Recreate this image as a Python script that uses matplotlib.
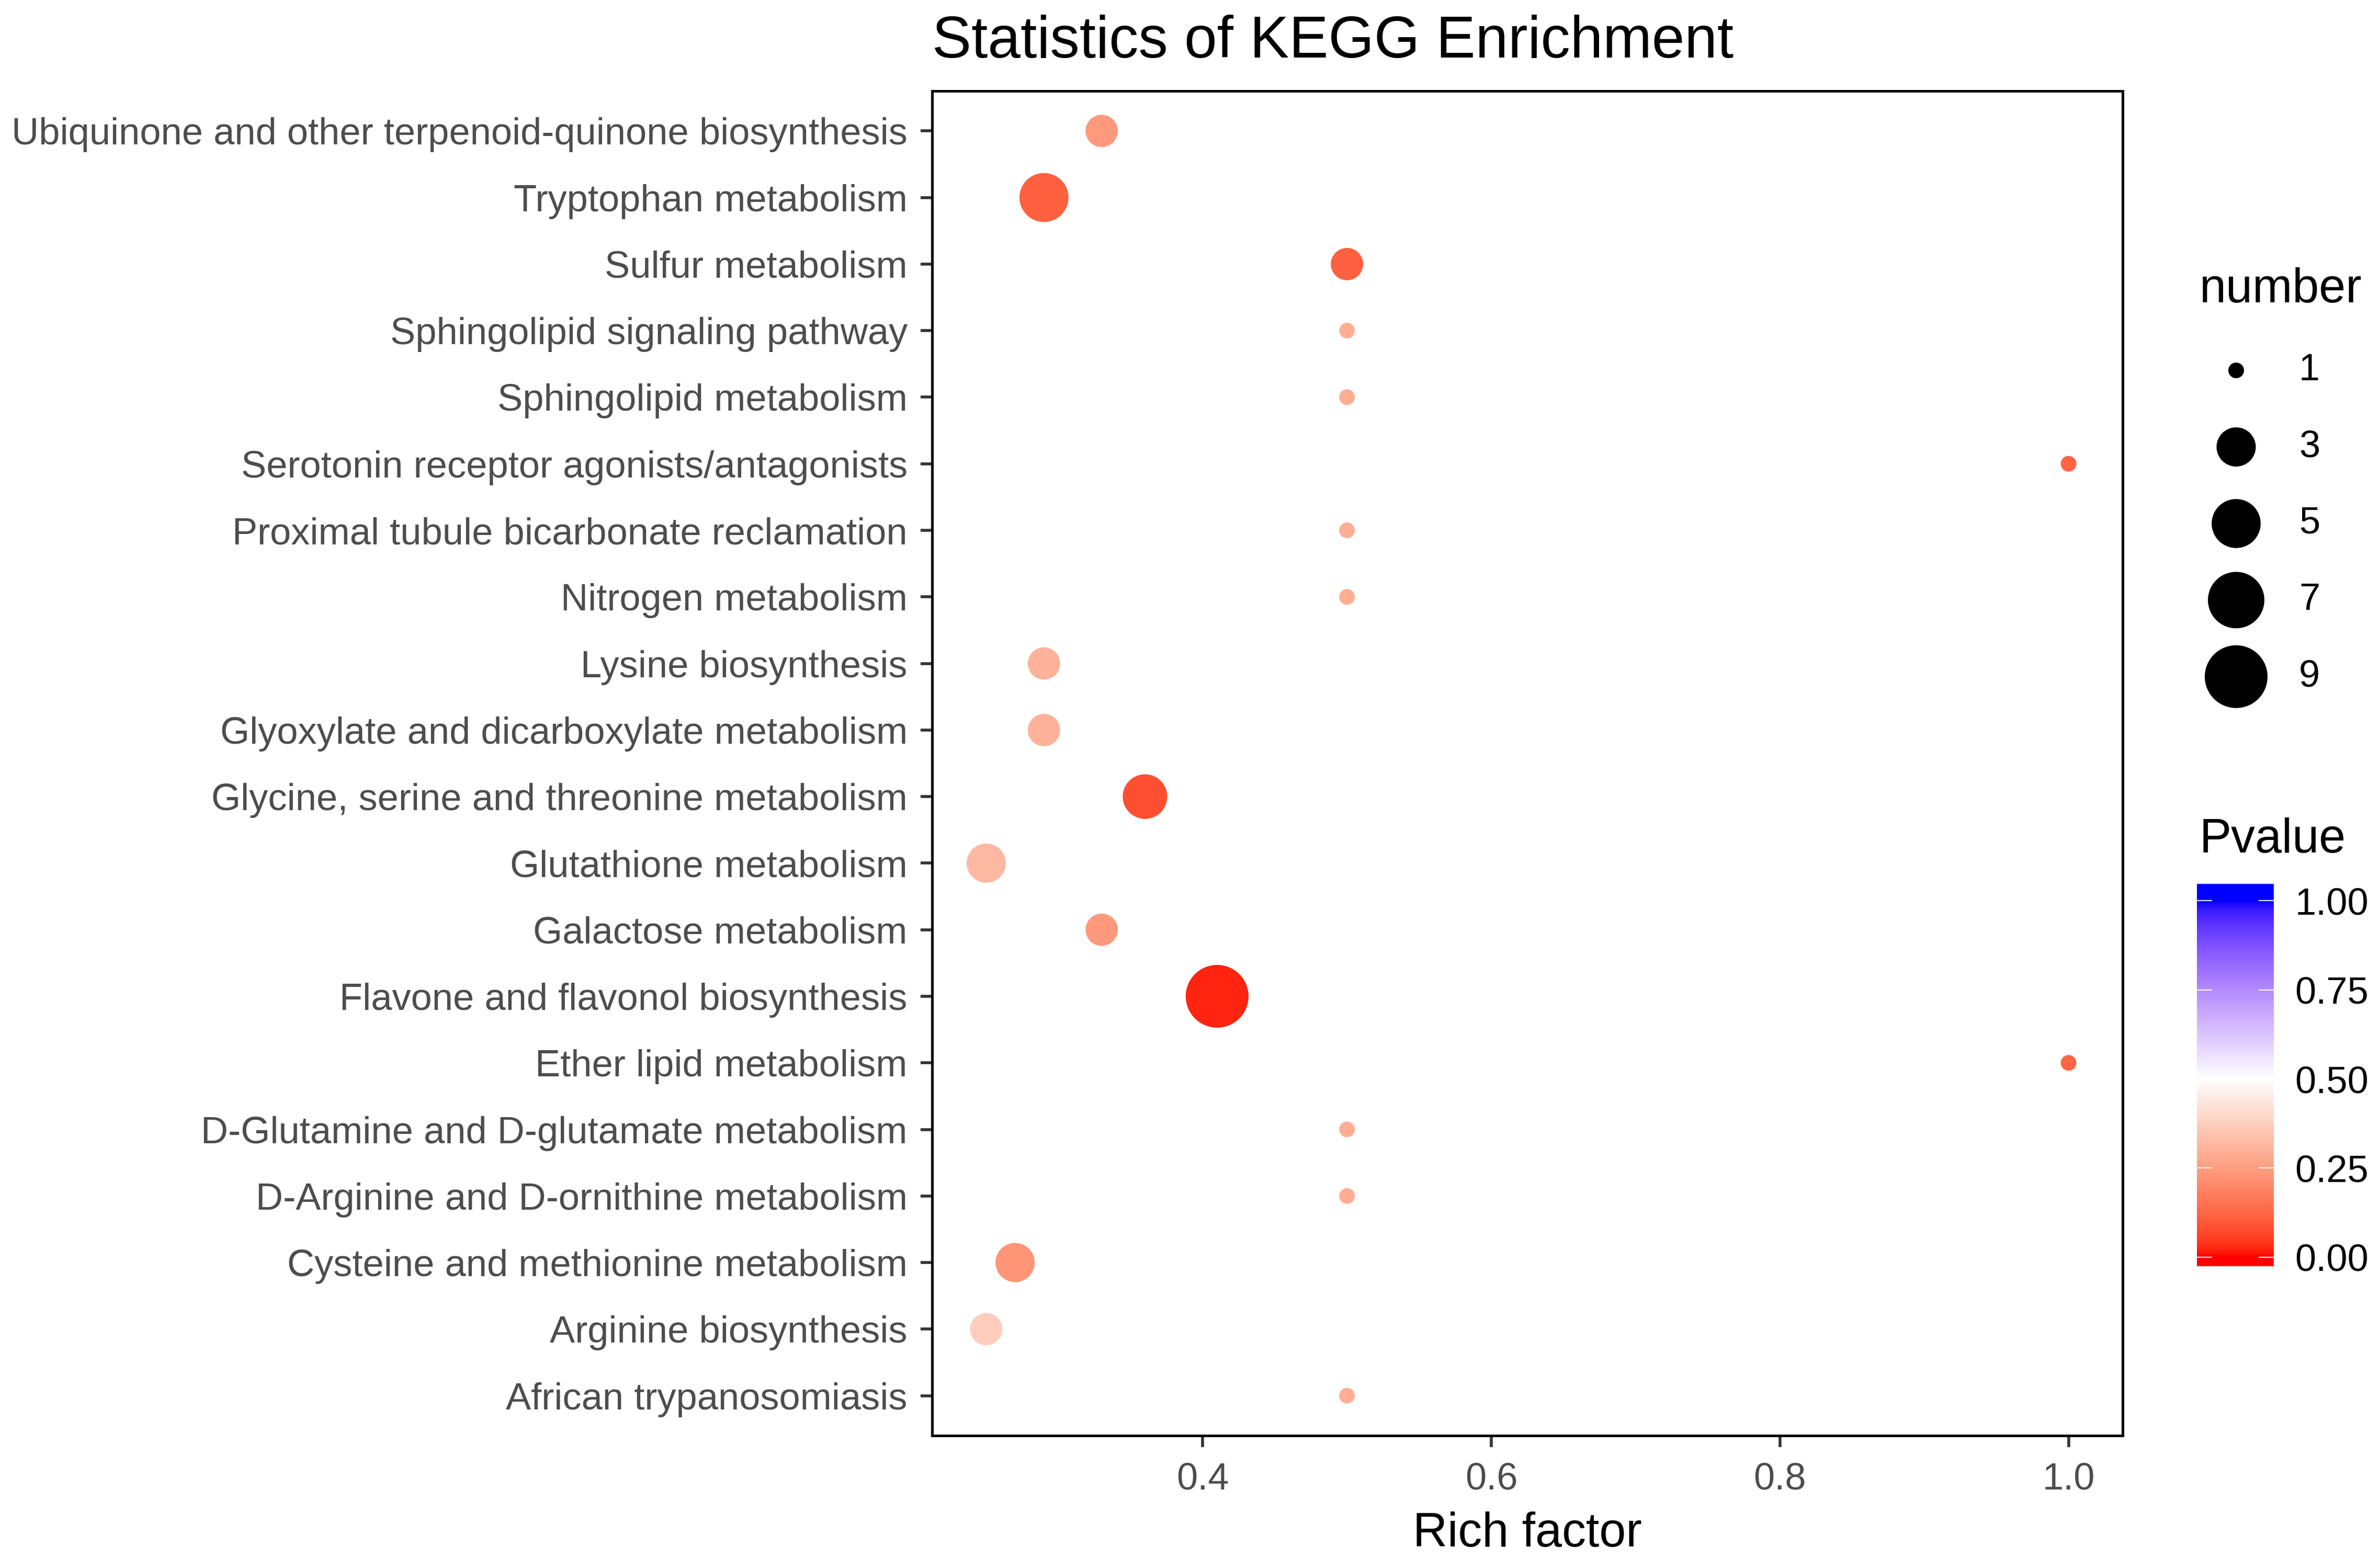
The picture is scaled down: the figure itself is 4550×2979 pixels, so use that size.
import matplotlib
matplotlib.use("Agg")
import matplotlib.pyplot as plt
import numpy as np
from matplotlib.colors import ListedColormap, Normalize

plt.rcParams['font.family'] = ['Liberation Sans', 'DejaVu Sans']

# data, top row first
pathways = [
    "Ubiquinone and other terpenoid-quinone biosynthesis",
    "Tryptophan metabolism",
    "Sulfur metabolism",
    "Sphingolipid signaling pathway",
    "Sphingolipid metabolism",
    "Serotonin receptor agonists/antagonists",
    "Proximal tubule bicarbonate reclamation",
    "Nitrogen metabolism",
    "Lysine biosynthesis",
    "Glyoxylate and dicarboxylate metabolism",
    "Glycine, serine and threonine metabolism",
    "Glutathione metabolism",
    "Galactose metabolism",
    "Flavone and flavonol biosynthesis",
    "Ether lipid metabolism",
    "D-Glutamine and D-glutamate metabolism",
    "D-Arginine and D-ornithine metabolism",
    "Cysteine and methionine metabolism",
    "Arginine biosynthesis",
    "African trypanosomiasis",
]
rich_factor = [0.33, 0.29, 0.5, 0.5, 0.5, 1.0, 0.5, 0.5, 0.29, 0.29,
               0.36, 0.25, 0.33, 0.41, 1.0, 0.5, 0.5, 0.27, 0.25, 0.5]
number = [2, 5, 2, 1, 1, 1, 1, 1, 2, 2, 4, 3, 2, 9, 1, 1, 1, 3, 2, 1]
pvalue = [0.24, 0.11, 0.11, 0.29, 0.29, 0.12, 0.29, 0.29, 0.30, 0.30,
          0.08, 0.32, 0.24, 0.02, 0.12, 0.29, 0.29, 0.23, 0.37, 0.29]

size_breaks = [1, 3, 5, 7, 9]
p_ticks = [0.0, 0.25, 0.5, 0.75, 1.0]
x_ticks = [0.4, 0.6, 0.8, 1.0]

W, H, DPI = 4550, 2979, 100


# red - white - blue gradient interpolated in Lab (like ggplot gradient2)
def srgb_to_lab(rgb):
    rgb = np.asarray(rgb, float)
    lin = np.where(rgb <= 0.04045, rgb / 12.92, ((rgb + 0.055) / 1.055) ** 2.4)
    M = np.array([[0.4124, 0.3576, 0.1805], [0.2126, 0.7152, 0.0722], [0.0193, 0.1192, 0.9505]])
    xyz = lin @ M.T / np.array([0.95047, 1.0, 1.08883])
    d = 6 / 29
    f = np.where(xyz > d ** 3, np.cbrt(xyz), xyz / (3 * d * d) + 4 / 29)
    return np.stack([116 * f[..., 1] - 16, 500 * (f[..., 0] - f[..., 1]), 200 * (f[..., 1] - f[..., 2])], -1)


def lab_to_srgb(lab):
    lab = np.asarray(lab, float)
    fy = (lab[..., 0] + 16) / 116
    fx = fy + lab[..., 1] / 500
    fz = fy - lab[..., 2] / 200
    d = 6 / 29
    f = np.stack([fx, fy, fz], -1)
    xyz = np.where(f > d, f ** 3, 3 * d * d * (f - 4 / 29)) * np.array([0.95047, 1.0, 1.08883])
    Minv = np.linalg.inv(np.array([[0.4124, 0.3576, 0.1805], [0.2126, 0.7152, 0.0722], [0.0193, 0.1192, 0.9505]]))
    lin = np.clip(xyz @ Minv.T, 0, 1)
    rgb = np.where(lin <= 0.0031308, lin * 12.92, 1.055 * lin ** (1 / 2.4) - 0.055)
    return np.clip(rgb, 0, 1)


lab_lo, lab_mid, lab_hi = srgb_to_lab([[1, 0, 0], [1, 1, 1], [0, 0, 1]])
t = np.linspace(0, 1, 512)[:, None]
lab = np.where(t < 0.5, lab_lo + (lab_mid - lab_lo) * (t / 0.5), lab_mid + (lab_hi - lab_mid) * ((t - 0.5) / 0.5))
cmap = ListedColormap(lab_to_srgb(lab))
norm = Normalize(0, 1)


def dot_size(n):
    # diameter in pixels, area scaling like ggplot scale_size
    n = np.asarray(n, float)
    d = 30 + 90 * np.sqrt((n - min(number)) / (max(number) - min(number)))
    return (d * 72 / DPI) ** 2


fig = plt.figure(figsize=(W / DPI, H / DPI), dpi=DPI)

# main panel
ax = fig.add_axes([1782 / W, 1 - 2745 / H, (4058 - 1782) / W, (2745 - 174) / H])
ypos = np.arange(len(pathways))[::-1] + 1
ax.scatter(rich_factor, ypos, s=dot_size(number), c=pvalue, cmap=cmap, norm=norm, linewidths=0, zorder=3)
ax.set_xlim(0.2125, 1.0375)
ax.set_ylim(0.4, len(pathways) + 0.6)
ax.set_yticks(ypos)
ax.set_yticklabels(pathways)
ax.set_xticks(x_ticks)
ax.set_xticklabels([f"{v:.1f}" for v in x_ticks])
ax.tick_params(axis='both', colors='#333333', labelcolor='#4D4D4D', length=16, width=4, labelsize=52)
ax.tick_params(axis='y', pad=18)
ax.tick_params(axis='x', pad=20, labelsize=52)
for s in ax.spines.values():
    s.set_linewidth(3.5)
    s.set_color('black')

fig.text(1782 / W, 1 - 110 / H, "Statistics of KEGG Enrichment", fontsize=81, ha='left', va='baseline')
fig.text((1782 + 4058) / 2 / W, 1 - 2957 / H, "Rich factor", fontsize=66, ha='center', va='baseline')

# size legend
fig.text(4205 / W, 1 - 578 / H, "number", fontsize=66, ha='left', va='baseline')
lax = fig.add_axes([4150 / W, 1 - 1367 / H, 400 / W, (1367 - 635) / H])
lax.set_xlim(0, 400)
lax.set_ylim(len(size_breaks) - 0.5, -0.5)
lax.axis('off')
ly = np.arange(len(size_breaks))
lax.scatter(np.full(len(size_breaks), 125), ly, s=dot_size(size_breaks), color='black', linewidths=0)
for i, v in enumerate(size_breaks):
    lax.text(245, i, str(v), fontsize=52, ha='left', va='center')

# colour bar
fig.text(4205 / W, 1 - 1630 / H, "Pvalue", fontsize=66, ha='left', va='baseline')
cax = fig.add_axes([4200 / W, 1 - 2421 / H, 147 / W, (2421 - 1690) / H])
lo, hi = -0.025, 1.047
grad = np.linspace(lo, hi, 400)[:, None]
cax.imshow(grad, cmap=cmap, norm=norm, aspect='auto', origin='lower', extent=[0, 1, lo, hi])
cax.set_xlim(0, 1)
cax.set_ylim(lo, hi)
cax.set_xticks([])
cax.set_yticks(p_ticks)
cax.set_yticklabels([f"{v:.2f}" for v in p_ticks])
cax.tick_params(axis='y', direction='in', left=True, right=True, labelleft=False, labelright=True,
                color='white', length=21, width=1.5, labelsize=52, pad=29, labelcolor='black')
for s in cax.spines.values():
    s.set_visible(False)

fig.savefig("out.png", dpi=DPI)
